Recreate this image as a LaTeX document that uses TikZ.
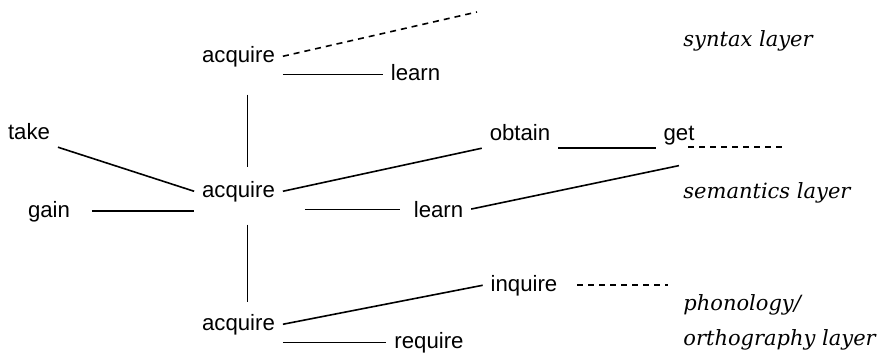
\documentclass[tikz,border=0pt]{standalone}
\usepackage{fontspec}
\setsansfont{Liberation Sans}
\newfontfamily\layerserif{DejaVu Serif}
\begin{document}
\begin{tikzpicture}[x=0.5pt,y=-0.5pt,
    word/.style={font=\sffamily\fontsize{11.1}{13}\selectfont,inner sep=2pt,outer sep=2pt,anchor=base},
    layer/.style={font=\layerserif\itshape\fontsize{10.5}{12}\selectfont,inner sep=0pt,anchor=base west},
    link/.style={line width=0.8pt},
    weak/.style={link,dash pattern=on 3pt off 2.5pt}]
    \useasboundingbox(0,0)rectangle(877,359);
    % words
    \node[word](atop)at(238.5,62){acquire};
    \node[word](ltop)at(415.5,80){learn};
    \node[word](take)at(29,139){take};
    \node[word](amid)at(238.5,197){acquire};
    \node[word](gain)at(49,217){gain};
    \node[word](obtain)at(520,140){obtain};
    \node[word](get)at(679,140){get};
    \node[word](lmid)at(438.5,217){learn};
    \node[word](inquire)at(524,291){inquire};
    \node[word](abot)at(238.5,330){acquire};
    \node[word](require)at(429,348){require};
    % layers
    \node[layer](syn)at(683,46){syntax layer};
    \node[layer](sem)at(683,198){semantics layer};
    \node[layer](pho)at(683,310){phonology/};
    \node[layer](ort)at(683,345){orthography layer};
    \coordinate(upend)at(477,12);
    \coordinate(getend)at(785,147);
    \coordinate(inqend)at(668,283);
    % syntax links
    \draw[weak](atop.east)--(upend);
    \draw[link](atop.south east)--(atop.south east-|ltop.west);
    \draw[link,shorten <=10pt,shorten >=3pt]([xshift=4.5pt]atop.south)--([xshift=4.5pt]amid.north);
    % semantics links
    \draw[link](take.south east)--(amid.west);
    \draw[link,shorten <=7pt](gain.east)--(gain.east-|amid.west);
    \draw[link](amid.east)--(obtain.south west);
    \draw[link,shorten <=11pt,shorten >=3pt](amid.south east)--(amid.south east-|lmid.west);
    \draw[link](obtain.south east)--(obtain.south east-|get.west);
    \draw[weak]([xshift=4.5pt]get.south|-getend)--(getend);
    \draw[link](lmid.east)--([yshift=-6.5pt]get.south);
    \draw[link,shorten <=7.5pt,shorten >=2pt]([xshift=4.5pt]amid.south)--([xshift=4.5pt]abot.north);
    % phonology/orthography links
    \draw[link](abot.east)--(inquire.west);
    \draw[weak,shorten <=6pt](inquire.east)--(inquire.east-|inqend);
    \draw[link](abot.south east)--(abot.south east-|require.west);
\end{tikzpicture}
\end{document}
